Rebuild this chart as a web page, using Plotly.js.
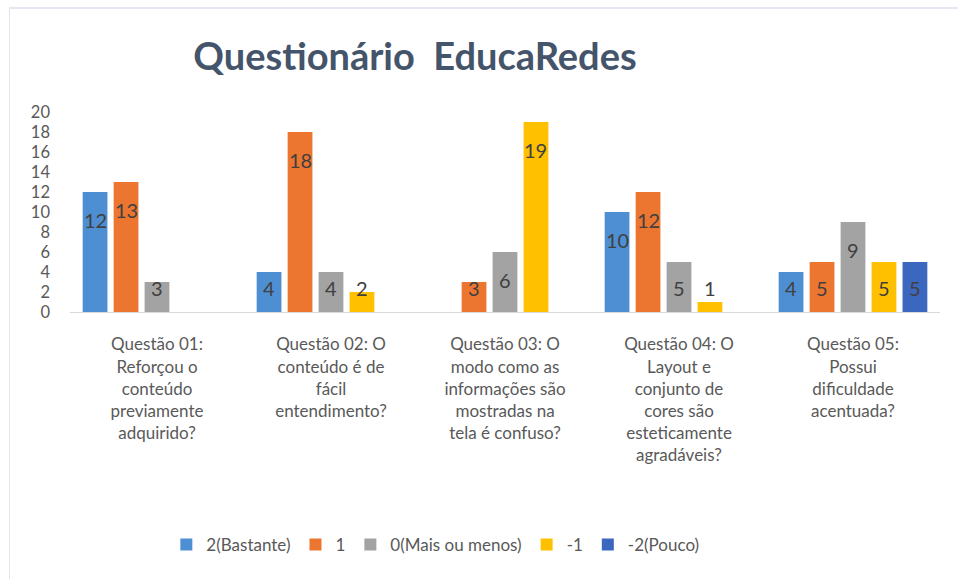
<!DOCTYPE html>
<html>
<head>
<meta charset="utf-8">
<script src="https://cdn.plot.ly/plotly-3.0.1.min.js"></script>
<style>
  html, body { margin: 0; padding: 0; background: #ffffff; }
  #wrap { position: relative; width: 958px; height: 579px; }
  #chart { width: 958px; height: 579px; }
  #frame { position: absolute; left: 9px; top: 7px; right: 0; bottom: 0;
           border-left: 1px solid #E1E4EE; border-top: 2px solid #E6E8F1; pointer-events: none; }
</style>
</head>
<body>
<div id="wrap"><div id="chart"></div><div id="frame"></div></div>
<script>
// ---- data ----
const categories = [
  "Questão 01:<br>Reforçou o<br>conteúdo<br>previamente<br>adquirido?",
  "Questão 02: O<br>conteúdo é de<br>fácil<br>entendimento?",
  "Questão 03: O<br>modo como as<br>informações são<br>mostradas na<br>tela é confuso?",
  "Questão 04: O<br>Layout e<br>conjunto de<br>cores são<br>esteticamente<br>agradáveis?",
  "Questão 05:<br>Possui<br>dificuldade<br>acentuada?"
];
const seriesNames = ["2(Bastante)", "1", "0(Mais ou menos)", "-1", "-2(Pouco)"];
const vBastante = [12, 4, null, 10, 4];
const v1        = [13, 18, 3, 12, 5];
const vMais     = [3, 4, 6, 5, 9];
const vMenos1   = [null, 2, 19, 1, 5];
const vPouco    = [null, null, null, null, 5];
const yTicks = [0, 2, 4, 6, 8, 10, 12, 14, 16, 18, 20];

// ---- styles ----
const colors = ["#4E8FD4", "#EC7630", "#A3A3A3", "#FFC000", "#3C67BE"];
const FONT = "Lato, 'Open Sans', sans-serif";
const bargap = 0.11, bargroupgap = 0.2;

const allSeries = [vBastante, v1, vMais, vMenos1, vPouco];
const xIdx = categories.map((_, i) => i);

const traces = allSeries.map((vals, k) => ({
  type: "bar",
  name: seriesNames[k],
  x: xIdx,
  y: vals,
  marker: { color: colors[k], line: { width: 0 } },
  hoverinfo: "y+name"
}));

// data labels placed through the data axes
const slot = (1 - bargap) / allSeries.length;
const annotations = [];
allSeries.forEach((vals, k) => {
  vals.forEach((v, j) => {
    if (v === null) return;
    annotations.push({
      x: j + (k - (allSeries.length - 1) / 2) * slot,
      y: Math.max(v - 2.8, 2.4),
      xref: "x", yref: "y",
      text: String(v),
      showarrow: false,
      xanchor: "center", yanchor: "middle",
      font: { family: FONT, size: 20, color: "#404040" }
    });
  });
});

const layout = {
  width: 958, height: 579,
  margin: { l: 70, r: 18, t: 112, b: 267, pad: 0 },
  paper_bgcolor: "#ffffff",
  plot_bgcolor: "#ffffff",
  barmode: "group",
  bargap: bargap,
  bargroupgap: bargroupgap,
  title: {
    text: "<b>Questionário\u00A0 EducaRedes</b>",
    x: 415 / 958, xanchor: "center", xref: "container",
    y: 1 - 57 / 579, yanchor: "middle", yref: "container",
    font: { family: FONT, size: 38, color: "#44546A" }
  },
  xaxis: {
    tickmode: "array",
    tickvals: xIdx,
    ticktext: categories,
    range: [-0.5, categories.length - 0.5],
    showgrid: false, zeroline: false,
    showline: true, linecolor: "#D9D9D9", linewidth: 1,
    ticks: "", ticklen: 0,
    ticklabelstandoff: 17,
    tickfont: { family: FONT, size: 17, color: "#595959" },
    tickangle: 0,
    fixedrange: true
  },
  yaxis: {
    range: [0, 20],
    tickmode: "array",
    tickvals: yTicks,
    ticktext: yTicks.map(String),
    showgrid: false, zeroline: false, showline: false,
    ticks: "", ticklen: 0,
    ticklabelstandoff: 19,
    tickfont: { family: FONT, size: 16.5, color: "#595959" },
    fixedrange: true
  },
  showlegend: true,
  legend: {
    orientation: "h",
    x: (182 - 70) / 870 - 0.018, xanchor: "left",
    y: (312 - 545) / 200, yanchor: "middle",
    font: { family: FONT, size: 17, color: "#595959" },
    bgcolor: "rgba(0,0,0,0)",
    itemwidth: 30,
    traceorder: "normal"
  },
  annotations: annotations
};

Plotly.newPlot("chart", traces, layout, { displayModeBar: false, staticPlot: true });
</script>
</body>
</html>
